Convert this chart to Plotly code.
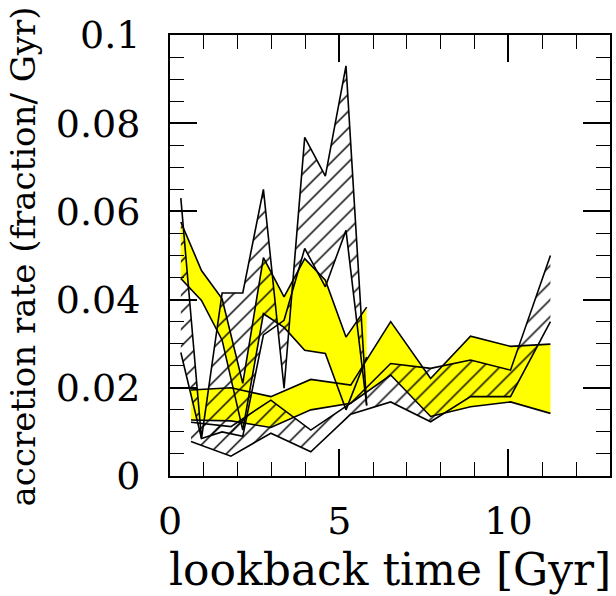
import plotly.graph_objects as go

# lookback times (Gyr) for the two sets of bands
t_a = [0.32, 0.93, 1.54, 2.15, 2.76, 3.37, 3.98, 4.59, 5.20, 5.81]
t_b = [0.62, 1.80, 2.98, 4.16, 5.34, 6.52, 7.70, 8.88, 10.06, 11.24]

# yellow band, set A
y1_hi = [0.0576, 0.0466, 0.0402, 0.0210, 0.0495, 0.0406, 0.0493, 0.0444, 0.0315, 0.0383]
y1_lo = [0.0448, 0.0398, 0.0308, 0.0104, 0.0368, 0.0337, 0.0285, 0.0278, 0.0150, 0.0270]
# hatched band, set A
h1_hi = [0.0630, 0.0085, 0.0415, 0.0415, 0.0650, 0.0199, 0.0768, 0.0680, 0.0930, 0.0160]
h1_lo = [0.0280, 0.0085, 0.0100, 0.0090, 0.0320, 0.0353, 0.0516, 0.0429, 0.0557, 0.0160]
# yellow band, set B
y2_hi = [0.0195, 0.0200, 0.0180, 0.0219, 0.0206, 0.0350, 0.0221, 0.0317, 0.0294, 0.0299]
y2_lo = [0.0127, 0.0125, 0.0110, 0.0150, 0.0165, 0.0229, 0.0135, 0.0157, 0.0168, 0.0142]
# hatched band, set B
h2_hi = [0.0122, 0.0112, 0.0172, 0.0104, 0.0165, 0.0255, 0.0244, 0.0263, 0.0240, 0.0500]
h2_lo = [0.0078, 0.0045, 0.0097, 0.0055, 0.0140, 0.0168, 0.0123, 0.0180, 0.0180, 0.0350]

y_ticks = [0, 0.02, 0.04, 0.06, 0.08, 0.1]
y_ticklabels = ["0", "0.02", "0.04", "0.06", "0.08", "0.1"]
x_ticks = [0, 5, 10]
x_ticklabels = ["0", "5", "10"]

FONT = "DejaVu Serif"
fig = go.Figure()


def band(x, hi, lo, kind):
    px = list(x) + list(x)[::-1]
    py = list(hi) + list(lo)[::-1]
    if kind == "yellow":
        fig.add_trace(go.Scatter(x=px, y=py, mode="lines", fill="toself",
                                 fillcolor="#ffff00", line=dict(width=0),
                                 hoverinfo="skip", showlegend=False))
    else:
        fig.add_trace(go.Scatter(x=px, y=py, mode="lines", fill="toself",
                                 fillcolor="rgba(0,0,0,0)",
                                 fillpattern=dict(shape="/", fgcolor="#000000",
                                                  fgopacity=1,
                                                  bgcolor="rgba(0,0,0,0)",
                                                  size=12, solidity=0.12,
                                                  fillmode="overlay"),
                                 line=dict(width=0), opacity=1,
                                 hoverinfo="skip", showlegend=False))


def edges(x, hi, lo):
    for yy in (hi, lo):
        fig.add_trace(go.Scatter(x=x, y=yy, mode="lines",
                                 line=dict(color="black", width=1.6),
                                 hoverinfo="skip", showlegend=False))


band(t_a, y1_hi, y1_lo, "yellow")
band(t_b, y2_hi, y2_lo, "yellow")
band(t_a, h1_hi, h1_lo, "hatch")
band(t_b, h2_hi, h2_lo, "hatch")
edges(t_a, y1_hi, y1_lo)
edges(t_b, y2_hi, y2_lo)
edges(t_a, h1_hi, h1_lo)
edges(t_b, h2_hi, h2_lo)

fig.update_layout(
    width=616, height=596,
    margin=dict(l=170, r=4, t=35, b=120),
    paper_bgcolor="white", plot_bgcolor="white",
    font=dict(family=FONT, color="black"),
    showlegend=False,
)
fig.update_xaxes(
    range=[0, 13], showgrid=False, zeroline=False,
    showline=True, linecolor="black", linewidth=2, mirror="ticks",
    ticks="inside", ticklen=27, tickwidth=1.6, tickcolor="black",
    tickvals=x_ticks, ticktext=x_ticklabels,
    tickfont=dict(family=FONT, size=38), ticklabelstandoff=10,
    minor=dict(ticks="inside", ticklen=14, tickwidth=1.4, tickcolor="black", dtick=1, showgrid=False),
)
fig.update_yaxes(
    range=[0, 0.1], showgrid=False, zeroline=False,
    showline=True, linecolor="black", linewidth=2, mirror="ticks",
    ticks="inside", ticklen=27, tickwidth=1.6, tickcolor="black",
    tickvals=y_ticks, ticktext=y_ticklabels,
    tickfont=dict(family=FONT, size=38), ticklabelstandoff=20,
    minor=dict(ticks="inside", ticklen=14, tickwidth=1.4, tickcolor="black", dtick=0.005, showgrid=False),
)
fig.add_annotation(text="lookback time [Gyr]", xref="paper", yref="paper",
                   x=0.5, y=-0.213, xanchor="center", yanchor="middle",
                   showarrow=False, font=dict(family=FONT, size=44))
fig.add_annotation(text="accretion rate (fraction/ Gyr)", xref="paper", yref="paper",
                   x=-0.335, y=0.497, xanchor="center", yanchor="middle", textangle=-90,
                   showarrow=False, font=dict(family=FONT, size=34))
fig.write_html("out.html")
